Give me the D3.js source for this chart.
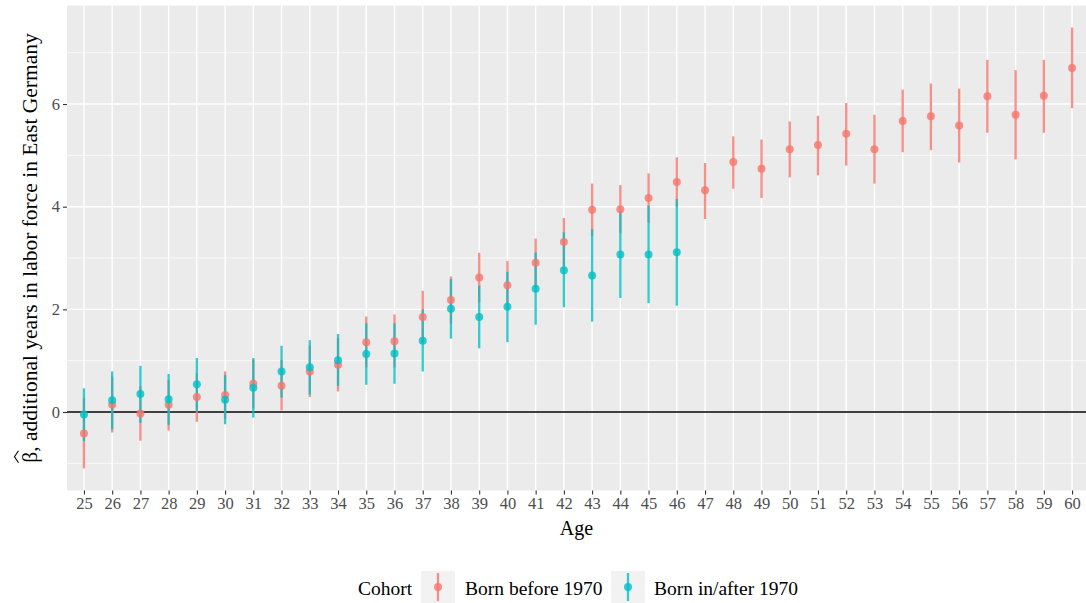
<!DOCTYPE html>
<html>
<head>
<meta charset="utf-8">
<script src="https://cdn.jsdelivr.net/npm/d3@7"></script>
<style>
  html, body { margin: 0; padding: 0; background: #ffffff; }
  svg { display: block; }
  svg text { font-family: "Liberation Serif", "Times New Roman", serif; }
</style>
</head>
<body>
<svg id="chart" width="1086" height="603"></svg>
<script>
// Age categories on the x axis
const ages = [25, 26, 27, 28, 29, 30, 31, 32, 33, 34, 35, 36, 37, 38, 39, 40, 41, 42,
              43, 44, 45, 46, 47, 48, 49, 50, 51, 52, 53, 54, 55, 56, 57, 58, 59, 60];

// Cohort born before 1970: estimate and confidence bounds, ages 25-60
const beforeEst = [-0.42, 0.14, -0.03, 0.14, 0.29, 0.33, 0.55, 0.51, 0.79, 0.92, 1.36, 1.38,
                   1.85, 2.18, 2.62, 2.47, 2.91, 3.31, 3.94, 3.95, 4.17, 4.48, 4.32, 4.87,
                   4.74, 5.12, 5.20, 5.42, 5.12, 5.67, 5.76, 5.58, 6.15, 5.79, 6.16, 6.70];
const beforeLo  = [-1.10, -0.40, -0.56, -0.36, -0.19, -0.13, 0.07, 0.03, 0.29, 0.40, 0.87, 0.87,
                   1.34, 1.72, 2.14, 2.00, 2.44, 2.84, 3.43, 3.48, 3.69, 4.00, 3.76, 4.35,
                   4.17, 4.57, 4.61, 4.80, 4.45, 5.06, 5.10, 4.86, 5.44, 4.92, 5.44, 5.92];
const beforeHi  = [0.27, 0.69, 0.50, 0.62, 0.75, 0.79, 1.02, 1.01, 1.29, 1.44, 1.86, 1.90,
                   2.36, 2.64, 3.10, 2.94, 3.38, 3.78, 4.45, 4.42, 4.65, 4.96, 4.85, 5.37,
                   5.31, 5.66, 5.77, 6.02, 5.79, 6.28, 6.40, 6.30, 6.86, 6.66, 6.86, 7.49];

// Cohort born in/after 1970: estimate and confidence bounds, ages 25-46
const afterEst = [-0.05, 0.23, 0.35, 0.25, 0.54, 0.24, 0.47, 0.79, 0.87, 1.01, 1.13, 1.14,
                  1.39, 2.01, 1.85, 2.05, 2.40, 2.76, 2.66, 3.07, 3.07, 3.11];
const afterLo  = [-0.57, -0.34, -0.21, -0.25, 0.02, -0.24, -0.11, 0.28, 0.34, 0.51, 0.53, 0.55,
                  0.79, 1.43, 1.24, 1.36, 1.70, 2.04, 1.76, 2.22, 2.12, 2.07];
const afterHi  = [0.46, 0.79, 0.90, 0.74, 1.05, 0.72, 1.05, 1.29, 1.40, 1.52, 1.73, 1.73,
                  2.00, 2.59, 2.46, 2.73, 3.11, 3.50, 3.56, 3.91, 4.02, 4.15];

const cohortNames = ["Born before 1970", "Born in/after 1970"];
const cohortColors = ["#F8766D", "#00BFC4"];
const yTicks = [0, 2, 4, 6];
const yMinor = [-1, 1, 3, 5, 7];

// Combine into row records per cohort
const rows = [];
beforeEst.forEach((v, i) => rows.push({ age: ages[i], est: v, lo: beforeLo[i], hi: beforeHi[i], c: 0 }));
afterEst.forEach((v, i) => rows.push({ age: ages[i], est: v, lo: afterLo[i], hi: afterHi[i], c: 1 }));

const serif = "'Liberation Serif', 'Times New Roman', serif";
const svg = d3.select("#chart");
const panel = { left: 67, right: 1089, top: 5.5, bottom: 490.5 };

// Discrete x scale with 0.6-step padding on both ends
const x = d3.scalePoint().domain(ages).range([panel.left, panel.right]).padding(0.6);

// Continuous y scale with 5% expansion of the data range
const lo = d3.min(rows, d => d.lo), hi = d3.max(rows, d => d.hi);
const pad = (hi - lo) * 0.05;
const y = d3.scaleLinear().domain([lo - pad, hi + pad]).range([panel.bottom, panel.top]);

// Panel background
svg.append("rect")
  .attr("x", panel.left).attr("y", panel.top)
  .attr("width", panel.right - panel.left).attr("height", panel.bottom - panel.top)
  .attr("fill", "#EBEBEB");

const grid = svg.append("g");
grid.selectAll("line.minor").data(yMinor.filter(v => y(v) > panel.top && y(v) < panel.bottom))
  .join("line").attr("class", "minor")
  .attr("x1", panel.left).attr("x2", panel.right)
  .attr("y1", d => y(d)).attr("y2", d => y(d))
  .attr("stroke", "#ffffff").attr("stroke-width", 0.7);
grid.selectAll("line.majory").data(yTicks)
  .join("line").attr("class", "majory")
  .attr("x1", panel.left).attr("x2", panel.right)
  .attr("y1", d => y(d)).attr("y2", d => y(d))
  .attr("stroke", "#ffffff").attr("stroke-width", 1.4);
grid.selectAll("line.majorx").data(ages)
  .join("line").attr("class", "majorx")
  .attr("x1", d => x(d)).attr("x2", d => x(d))
  .attr("y1", panel.top).attr("y2", panel.bottom)
  .attr("stroke", "#ffffff").attr("stroke-width", 1.4);

// Reference line at zero
svg.append("line")
  .attr("x1", panel.left).attr("x2", panel.right)
  .attr("y1", y(0)).attr("y2", y(0))
  .attr("stroke", "#000000").attr("stroke-width", 1.5);

// Error bars first, then points on top
const marks = svg.append("g");
marks.selectAll("line.err").data(rows).join("line").attr("class", "err")
  .attr("x1", d => x(d.age)).attr("x2", d => x(d.age))
  .attr("y1", d => y(d.lo)).attr("y2", d => y(d.hi))
  .attr("stroke", d => cohortColors[d.c]).attr("stroke-opacity", 0.8)
  .attr("stroke-width", 2.3);
marks.selectAll("circle.pt").data(rows).join("circle").attr("class", "pt")
  .attr("cx", d => x(d.age)).attr("cy", d => y(d.est)).attr("r", 4)
  .attr("fill", d => cohortColors[d.c]).attr("fill-opacity", 0.8);

// X axis
const xAxis = svg.append("g").attr("transform", `translate(0,${panel.bottom})`)
  .call(d3.axisBottom(x).tickSize(4).tickPadding(3).tickSizeOuter(0));
xAxis.attr("font-family", serif).attr("font-size", null);
xAxis.select(".domain").remove();
xAxis.selectAll(".tick line").attr("stroke", "#333333").attr("stroke-width", 1.1);
xAxis.selectAll(".tick text").attr("fill", "#4D4D4D").style("font-size", "16.5px")
  .style("font-family", serif);

// Y axis
const yAxis = svg.append("g").attr("transform", `translate(${panel.left},0)`)
  .call(d3.axisLeft(y).tickValues(yTicks).tickSize(4).tickPadding(3).tickSizeOuter(0));
yAxis.attr("font-family", serif).attr("font-size", null);
yAxis.select(".domain").remove();
yAxis.selectAll(".tick line").attr("stroke", "#333333").attr("stroke-width", 1.1);
yAxis.selectAll(".tick text").attr("fill", "#4D4D4D").style("font-size", "16.5px")
  .style("font-family", serif);

// Axis titles
svg.append("text")
  .attr("x", (panel.left + 1086) / 2).attr("y", 535)
  .attr("text-anchor", "middle").attr("fill", "#000")
  .style("font-size", "20px").style("font-family", serif).text("Age");

// Y title: beta with a hat drawn above the first glyph
const yTitle = svg.append("g")
  .attr("transform", `translate(37,${(panel.top + panel.bottom) / 2}) rotate(-90)`);
const yTitleText = yTitle.append("text")
  .attr("text-anchor", "start").attr("fill", "#000")
  .style("font-size", "21.5px").style("font-family", serif)
  .text("\u03B2, additional years in labor force in East Germany");
const titleLen = yTitleText.node().getComputedTextLength();
const betaW = yTitleText.node().getSubStringLength(0, 1);
const x0 = -titleLen / 2;
yTitleText.attr("x", x0);
const hatC = x0 + betaW / 2 + 0.5;
yTitle.append("path")
  .attr("d", `M${hatC - 6},-18.5 L${hatC},-22.5 L${hatC + 6},-18.5`)
  .attr("fill", "none").attr("stroke", "#000").attr("stroke-width", 1.1);

// Legend
const legend = svg.append("g");
legend.append("text").attr("x", 358).attr("y", 595).attr("fill", "#000")
  .style("font-size", "19.5px").style("font-family", serif).text("Cohort");
const keyX = [421, 611];
const labelX = [465, 654];
cohortNames.forEach((name, i) => {
  const k = legend.append("g");
  k.append("rect").attr("x", keyX[i]).attr("y", 571).attr("width", 34).attr("height", 32)
    .attr("fill", "#F2F2F2");
  k.append("line").attr("x1", keyX[i] + 17).attr("x2", keyX[i] + 17)
    .attr("y1", 573).attr("y2", 601)
    .attr("stroke", cohortColors[i]).attr("stroke-opacity", 0.8).attr("stroke-width", 2.3);
  k.append("circle").attr("cx", keyX[i] + 17).attr("cy", 587).attr("r", 4)
    .attr("fill", cohortColors[i]).attr("fill-opacity", 0.8);
  legend.append("text").attr("x", labelX[i]).attr("y", 595).attr("fill", "#000")
    .style("font-size", "19.5px").style("font-family", serif).text(name);
});
</script>
</body>
</html>
